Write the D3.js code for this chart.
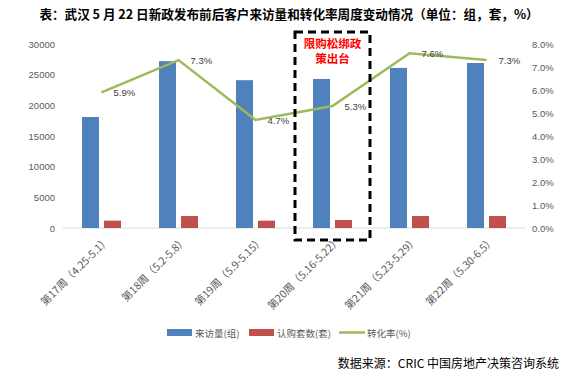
<!DOCTYPE html>
<html><head><meta charset="utf-8">
<script src="https://cdn.jsdelivr.net/npm/d3@7"></script>
<style>body{margin:0;background:#fff}svg{display:block}</style>
</head><body><svg id="c" width="575" height="380"></svg>
<script>
const categories = ["第17周（4.25-5.1）","第18周（5.2-5.8）","第19周（5.9-5.15）","第20周（5.16-5.22）","第21周（5.23-5.29）","第22周（5.30-6.5）"];
const visits = [18100, 27200, 24100, 24300, 26100, 26900];
const sales = [1200, 1950, 1200, 1300, 1950, 1950];
const rate = [5.9, 7.3, 4.7, 5.3, 7.6, 7.3];
const leftTicks = [0,5000,10000,15000,20000,25000,30000];
const rightTicks = [0,1,2,3,4,5,6,7,8];
const seriesNames = ["来访量(组)","认购套数(套)","转化率(%)"];
const colors = ["#4F81BD","#C0504D","#9BBB59"];
const title = "表：武汉 5 月 22 日新政发布前后客户来访量和转化率周度变动情况（单位：组，套，%）";
const source = "数据来源：CRIC 中国房地产决策咨询系统";
const note = ["限购松绑政","策出台"];
const highlightIndex = 3;

const svg = d3.select("#c");
const font = "'Noto Sans CJK SC', 'Liberation Sans', sans-serif";
const L = 63, R = 525, T = 44, B = 228;
const x = d3.scaleBand().domain(categories).range([L, R]);
const yL = d3.scaleLinear().domain([0, 30000]).range([B, T]);
const yR = d3.scaleLinear().domain([0, 8]).range([B, T]);

svg.append("text").attr("x", 289).attr("y", 19).attr("text-anchor","middle")
  .attr("font-family", font).attr("font-weight","bold").attr("font-size", 12.6).attr("fill","#000").text(title);

const gl = svg.append("g").attr("transform",`translate(${L},0)`)
  .call(d3.axisLeft(yL).tickValues(leftTicks).tickSize(0).tickPadding(8).tickFormat(d3.format("d")));
gl.select(".domain").remove();
gl.selectAll("text").attr("font-family", "'Liberation Sans', sans-serif").attr("font-size", 9.5).attr("fill","#595959");

const gr = svg.append("g").attr("transform",`translate(${R},0)`)
  .call(d3.axisRight(yR).tickValues(rightTicks).tickSize(0).tickPadding(7).tickFormat(d => d.toFixed(1) + "%"));
gr.select(".domain").remove();
gr.selectAll("text").attr("font-family", "'Liberation Sans', sans-serif").attr("font-size", 9.5).attr("fill","#595959");

svg.append("line").attr("x1", L).attr("x2", R).attr("y1", B).attr("y2", B).attr("stroke","#D9D9D9").attr("stroke-width",1);

const bw = 17, gap = 5;
svg.append("g").selectAll("rect").data(visits).join("rect")
  .attr("x", (d,i) => x(categories[i]) + x.bandwidth()/2 - gap/2 - bw)
  .attr("y", d => yL(d)).attr("width", bw).attr("height", d => B - yL(d)).attr("fill", colors[0]);
svg.append("g").selectAll("rect").data(sales).join("rect")
  .attr("x", (d,i) => x(categories[i]) + x.bandwidth()/2 + gap/2)
  .attr("y", d => yL(d)).attr("width", bw).attr("height", d => B - yL(d)).attr("fill", colors[1]);

const cx = i => x(categories[i]) + x.bandwidth()/2;
const line = d3.line().x((d,i) => cx(i)).y(d => yR(d));
svg.append("path").datum(rate).attr("d", line).attr("fill","none").attr("stroke", colors[2]).attr("stroke-width", 2.5);

svg.append("g").selectAll("text").data(rate).join("text")
  .attr("x", (d,i) => cx(i) + 12).attr("y", d => yR(d) + 4)
  .attr("font-family", "'Liberation Sans', sans-serif").attr("font-size", 9.5).attr("fill","#404040")
  .text(d => d.toFixed(1) + "%");

svg.append("g").selectAll("text").data(categories).join("text")
  .attr("transform", (d,i) => `translate(${cx(i) + 9},${B + 13}) rotate(-45)`)
  .attr("text-anchor","end")
  .attr("font-family", font).attr("font-size", 10.5).attr("fill","#595959").text(d => d);

const hx = cx(highlightIndex);
svg.append("rect").attr("x", hx - 37.5).attr("y", 32).attr("width", 75).attr("height", 208)
  .attr("fill","none").attr("stroke","#000").attr("stroke-width", 3).attr("stroke-dasharray","8,5");
note.forEach((t, k) => {
  svg.append("text").attr("x", hx).attr("y", 48 + k*15).attr("text-anchor","middle")
    .attr("font-family", font).attr("font-weight","bold").attr("font-size", 11.5).attr("fill","#FF0000").text(t);
});

const lg = svg.append("g").attr("font-family", font).attr("font-size", 9.5).attr("fill","#595959");
const lx = [167, 249, 339];
seriesNames.forEach((n, i) => {
  if (i < 2) lg.append("rect").attr("x", lx[i]).attr("y", 329).attr("width", 25).attr("height", 7).attr("fill", colors[i]);
  else lg.append("line").attr("x1", lx[i]).attr("x2", lx[i] + 26).attr("y1", 332.5).attr("y2", 332.5).attr("stroke", colors[i]).attr("stroke-width", 2.5);
  lg.append("text").attr("x", lx[i] + 28).attr("y", 336.5).text(n);
});

svg.append("text").attr("x", 559).attr("y", 368).attr("text-anchor","end")
  .attr("font-family", font).attr("font-size", 12).attr("fill","#000").text(source);
</script></body></html>
